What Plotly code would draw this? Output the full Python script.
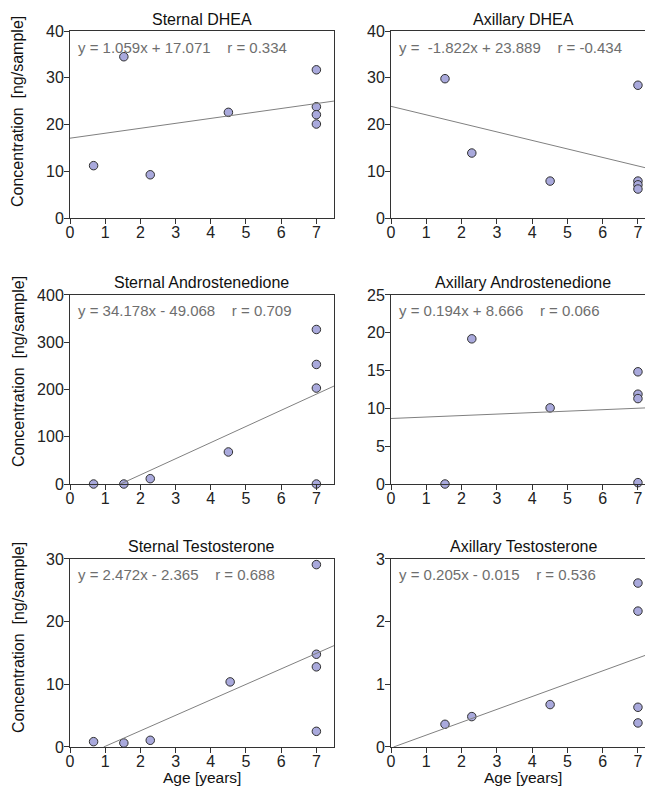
import plotly.graph_objects as go

# ---------------- data ----------------
titles = ["Sternal DHEA", "Axillary DHEA",
          "Sternal Androstenedione", "Axillary Androstenedione",
          "Sternal Testosterone", "Axillary Testosterone"]

sternal_dhea_x = [0.67, 1.53, 2.28, 4.5, 7, 7, 7, 7]
sternal_dhea_y = [11.2, 34.5, 9.25, 22.6, 31.7, 23.8, 22.1, 20.1]
axillary_dhea_x = [1.53, 2.29, 4.51, 7, 7, 7, 7]
axillary_dhea_y = [29.8, 13.9, 7.9, 28.4, 7.9, 7.1, 6.2]
sternal_andro_x = [0.67, 1.53, 2.28, 4.5, 7, 7, 7, 7]
sternal_andro_y = [0, 0, 11.3, 67.8, 327, 253, 203, 0]
axillary_andro_x = [1.53, 2.29, 4.51, 7, 7, 7, 7]
axillary_andro_y = [0, 19.2, 10.07, 14.84, 11.88, 11.3, 0.18]
sternal_testo_x = [0.67, 1.53, 2.28, 4.55, 7, 7, 7, 7]
sternal_testo_y = [0.85, 0.64, 1.07, 10.39, 29.1, 14.8, 12.79, 2.5]
axillary_testo_x = [1.53, 2.29, 4.51, 7, 7, 7, 7]
axillary_testo_y = [0.362, 0.485, 0.677, 2.616, 2.168, 0.634, 0.384]

slopes = [1.059, -1.822, 34.178, 0.194, 2.472, 0.205]
intercepts = [17.071, 23.889, -49.068, 8.666, -2.365, -0.015]
eq_labels = ["y = 1.059x + 17.071\u00a0\u00a0\u00a0 r = 0.334",
             "y =\u00a0 -1.822x + 23.889\u00a0\u00a0\u00a0 r = -0.434",
             "y = 34.178x - 49.068\u00a0\u00a0\u00a0 r = 0.709",
             "y = 0.194x + 8.666\u00a0\u00a0\u00a0 r = 0.066",
             "y = 2.472x - 2.365\u00a0\u00a0\u00a0 r = 0.688",
             "y = 0.205x - 0.015\u00a0\u00a0\u00a0 r = 0.536"]
y_max = [40, 40, 400, 25, 30, 3]
y_dtick = [10, 10, 100, 5, 10, 1]
x_ticks = [0, 1, 2, 3, 4, 5, 6, 7]
x_title = "Age [years]"
y_title = "Concentration\u00a0 [ng/sample]"

xs_all = [sternal_dhea_x, axillary_dhea_x, sternal_andro_x,
          axillary_andro_x, sternal_testo_x, axillary_testo_x]
ys_all = [sternal_dhea_y, axillary_dhea_y, sternal_andro_y,
          axillary_andro_y, sternal_testo_y, axillary_testo_y]

# ---------------- layout geometry ----------------
FONT = "Liberation Sans, Arial, sans-serif"
col_domains = [[0.0, 0.4591], [0.5583, 1.0]]
row_domains = [[0.7388, 1.0], [0.3673, 0.6313], [0.0, 0.2626]]
x_ranges = [[0, 7.5], [0, 7.2]]
ytitle_pos = [0.8869, 0.5237, 0.1522]

fig = go.Figure()
layout = dict(
    width=645, height=791,
    margin=dict(l=70, r=0, t=31, b=44),
    paper_bgcolor="white", plot_bgcolor="white",
    showlegend=False,
    font=dict(family=FONT, size=15, color="#222222"),
)
annotations = []

for i in range(6):
    r, c = divmod(i, 2)
    n = i + 1
    xa = "x" if n == 1 else f"x{n}"
    ya = "y" if n == 1 else f"y{n}"

    # scatter points
    fig.add_trace(go.Scatter(
        x=xs_all[i], y=ys_all[i], mode="markers", xaxis=xa, yaxis=ya,
        marker=dict(size=8.5, color="#a9a9dc",
                    line=dict(color="#303030", width=1)),
        cliponaxis=False,
    ))
    # regression line from coefficients
    x_end = x_ranges[c][1]
    x_start = 0.0
    if intercepts[i] < 0:
        x_start = -intercepts[i] / slopes[i]
    fig.add_trace(go.Scatter(
        x=[x_start, x_end],
        y=[slopes[i] * x_start + intercepts[i], slopes[i] * x_end + intercepts[i]],
        mode="lines", xaxis=xa, yaxis=ya,
        line=dict(color="#808080", width=1),
    ))

    layout[f"xaxis{n}"] = dict(
        domain=col_domains[c], anchor=ya, range=x_ranges[c],
        tickvals=x_ticks, ticks="outside", ticklen=5, tickwidth=1,
        tickcolor="#333333", showline=True, linecolor="#333333",
        linewidth=1, mirror=True, showgrid=False, zeroline=False,
        tickfont=dict(size=16, color="#222222"), ticklabelstandoff=-5,
    )
    layout[f"yaxis{n}"] = dict(
        domain=row_domains[r], anchor=xa, range=[0, y_max[i]],
        dtick=y_dtick[i], ticks="outside", ticklen=5, tickwidth=1,
        tickcolor="#333333", showline=True, linecolor="#333333",
        linewidth=1, mirror=(c == 0), showgrid=False, zeroline=False,
        tickfont=dict(size=16, color="#222222"), ticklabelstandoff=-3,
    )

    # subplot title
    annotations.append(dict(
        text=titles[i], xref=f"{xa} domain", yref=f"{ya} domain",
        x=0.5 if c == 0 else (3.75 / 7.2), y=1, yanchor="middle",
        yshift=12, showarrow=False,
        font=dict(size=16, color="#111111", family=FONT),
    ))
    # equation
    annotations.append(dict(
        text=eq_labels[i], xref=f"{xa} domain", yref=f"{ya} domain",
        x=0, y=1, xanchor="left", yanchor="middle", xshift=6, yshift=-16,
        showarrow=False, font=dict(size=15, color="#6e6e6e", family=FONT),
    ))

# y axis titles (left column)
for r in range(3):
    annotations.append(dict(
        text=y_title, xref="paper", yref="paper", x=-0.0904,
        y=ytitle_pos[r], xanchor="center", yanchor="middle",
        textangle=-90, showarrow=False,
        font=dict(size=16, color="#111111", family=FONT),
    ))
# x axis titles (bottom row)
for xa in ["x5", "x6"]:
    annotations.append(dict(
        text=x_title, xref=xa, yref="paper", x=3.75, y=0,
        yanchor="middle", yshift=-30, showarrow=False,
        font=dict(size=15.5, color="#111111", family=FONT),
    ))

layout["annotations"] = annotations
fig.update_layout(**layout)
fig.write_html(
    "out.html",
    config={"displayModeBar": False},
    post_script="document.body.style.margin='0';document.body.style.overflow='hidden';",
)
